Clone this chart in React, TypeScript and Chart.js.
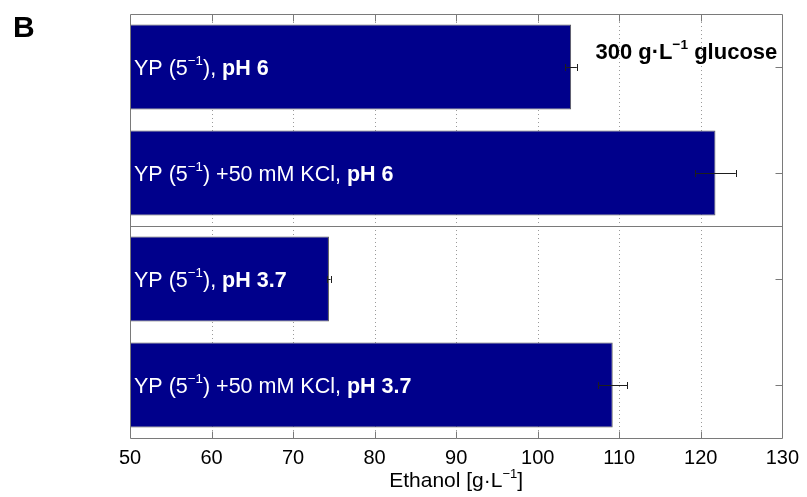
import { useEffect, useRef } from 'react';
import { Chart, registerables } from 'chart.js';

Chart.register(...registerables);

// Culture conditions (normal weight) and pH (bold) for each bar, top to bottom
const conditions = ['YP (5⁻¹), ', 'YP (5⁻¹) +50 mM KCl, ', 'YP (5⁻¹), ', 'YP (5⁻¹) +50 mM KCl, '];
const phLabels = ['pH 6', 'pH 6', 'pH 3.7', 'pH 3.7'];
// Final ethanol titre and its error, g/L
const ethanolMean = [104.1, 121.8, 74.4, 109.2];
const ethanolError = [0.7, 2.5, 0.2, 1.8];
const xTickValues = [50, 60, 70, 80, 90, 100, 110, 120, 130];
// Horizontal divider drawn after this many bars (pH 6 group | pH 3.7 group)
const groupBreakAfter = 2;
const panelLetter = 'B';
const glucoseNote = '300 g·L⁻¹ glucose';
const xAxisTitle = 'Ethanol [g·L⁻¹]';

const FONT = '"Liberation Sans", Arial, Helvetica, sans-serif';
const SUP = '⁻¹';

type Seg = { text: string; bold: boolean; sup: boolean };

function toSegments(text: string, bold: boolean): Seg[] {
  const parts = text.split(SUP);
  const out: Seg[] = [];
  parts.forEach((p, i) => {
    if (p) out.push({ text: p, bold, sup: false });
    if (i < parts.length - 1) out.push({ text: '−1', bold, sup: true });
  });
  return out;
}

function segFont(seg: Seg, size: number) {
  const s = seg.sup ? size * 0.62 : size;
  return `${seg.bold ? 'bold ' : ''}${s}px ${FONT}`;
}

function measureRich(ctx: CanvasRenderingContext2D, segs: Seg[], size: number) {
  let w = 0;
  for (const s of segs) {
    ctx.font = segFont(s, size);
    w += ctx.measureText(s.text).width;
  }
  return w;
}

function drawRich(
  ctx: CanvasRenderingContext2D,
  segs: Seg[],
  x: number,
  baseline: number,
  size: number,
  color: string,
  align: 'left' | 'center' | 'right'
) {
  const w = measureRich(ctx, segs, size);
  let cx = align === 'left' ? x : align === 'center' ? x - w / 2 : x - w;
  ctx.fillStyle = color;
  ctx.textAlign = 'left';
  ctx.textBaseline = 'alphabetic';
  for (const s of segs) {
    ctx.font = segFont(s, size);
    ctx.fillText(s.text, cx, s.sup ? baseline - size * 0.45 : baseline);
    cx += ctx.measureText(s.text).width;
  }
}

const figurePlugin = {
  id: 'figureDecor',
  beforeDatasetsDraw(chart: any) {
    const { ctx, chartArea: a, scales } = chart;
    const x = scales.x;
    ctx.save();
    ctx.strokeStyle = '#9a9a9a';
    ctx.lineWidth = 1;
    ctx.setLineDash([1, 3]);
    xTickValues.slice(1, -1).forEach((v) => {
      const px = Math.round(x.getPixelForValue(v)) + 0.5;
      ctx.beginPath();
      ctx.moveTo(px, a.top);
      ctx.lineTo(px, a.bottom);
      ctx.stroke();
    });
    ctx.restore();
  },
  afterDatasetsDraw(chart: any) {
    const { ctx, chartArea: a, scales } = chart;
    const x = scales.x;
    const y = scales.y;
    ctx.save();

    // error bars
    ctx.strokeStyle = '#1e1e1e';
    ctx.lineWidth = 1;
    ethanolMean.forEach((m, i) => {
      const yc = Math.round(y.getPixelForValue(i)) + 0.5;
      const x0 = x.getPixelForValue(m - ethanolError[i]);
      const x1 = x.getPixelForValue(m + ethanolError[i]);
      ctx.beginPath();
      ctx.moveTo(x0, yc);
      ctx.lineTo(x1, yc);
      ctx.moveTo(Math.round(x0) + 0.5, yc - 3.5);
      ctx.lineTo(Math.round(x0) + 0.5, yc + 3.5);
      ctx.moveTo(Math.round(x1) + 0.5, yc - 3.5);
      ctx.lineTo(Math.round(x1) + 0.5, yc + 3.5);
      ctx.stroke();
    });

    // frame, divider and inward tick marks
    ctx.strokeStyle = '#7a7a7a';
    const L = Math.round(a.left) + 0.5;
    const R = Math.round(a.right) + 0.5;
    const T = Math.round(a.top) + 0.5;
    const B = Math.round(a.bottom) + 0.5;
    ctx.beginPath();
    ctx.rect(L, T, R - L, B - T);
    const yDiv = Math.round((y.getPixelForValue(groupBreakAfter - 1) + y.getPixelForValue(groupBreakAfter)) / 2) + 0.5;
    ctx.moveTo(L, yDiv);
    ctx.lineTo(R, yDiv);
    xTickValues.slice(1, -1).forEach((v) => {
      const px = Math.round(x.getPixelForValue(v)) + 0.5;
      ctx.moveTo(px, T);
      ctx.lineTo(px, T + 7);
      ctx.moveTo(px, B);
      ctx.lineTo(px, B - 7);
    });
    ethanolMean.forEach((_, i) => {
      const yc = Math.round(y.getPixelForValue(i)) + 0.5;
      ctx.moveTo(R, yc);
      ctx.lineTo(R - 7, yc);
    });
    ctx.stroke();

    // labels inside the bars
    const labelSize = 21.5;
    conditions.forEach((c, i) => {
      const yc = y.getPixelForValue(i);
      const segs = [...toSegments(c, false), ...toSegments(phLabels[i], true)];
      drawRich(ctx, segs, a.left + 4, yc + labelSize * 0.716 / 2, labelSize, '#ffffff', 'left');
    });

    // glucose note
    drawRich(ctx, toSegments(glucoseNote, true), a.right - 5, a.top + 45, 22, '#000000', 'right');

    // axis title
    drawRich(ctx, toSegments(xAxisTitle, false), (a.left + a.right) / 2, 487, 21, '#000000', 'center');

    // panel letter
    ctx.font = `bold 30px ${FONT}`;
    ctx.fillStyle = '#000';
    ctx.textAlign = 'left';
    ctx.textBaseline = 'alphabetic';
    ctx.fillText(panelLetter, 13, 37);

    ctx.restore();
  },
};

export default function App() {
  const canvasRef = useRef<HTMLCanvasElement | null>(null);

  useEffect(() => {
    const canvas = canvasRef.current;
    if (!canvas) return;
    const chart = new Chart(canvas, {
      type: 'bar',
      data: {
        labels: conditions.map((c, i) => c + phLabels[i]),
        datasets: [
          {
            data: ethanolMean,
            base: 50,
            backgroundColor: '#00008b',
            borderColor: '#5a5a5a',
            borderWidth: 1,
            barPercentage: 0.8,
            categoryPercentage: 1,
          },
        ],
      },
      options: {
        indexAxis: 'y',
        responsive: false,
        animation: false,
        layout: { padding: { left: 130, right: 24, top: 14, bottom: 0 } },
        plugins: {
          legend: { display: false },
          tooltip: { enabled: false },
        },
        scales: {
          x: {
            min: 50,
            max: 130,
            afterFit: (scale: any) => {
              scale.height = 59;
            },
            ticks: {
              stepSize: 10,
              padding: 8,
              color: '#000000',
              font: { family: FONT, size: 20 },
            },
            grid: { display: false, drawTicks: false },
            border: { display: false },
          },
          y: {
            display: false,
          },
        },
      },
      plugins: [figurePlugin],
    });
    return () => chart.destroy();
  }, []);

  return (
    <div style={{ position: 'fixed', left: 0, top: 0, width: 807, height: 497, background: '#fff' }}>
      <canvas ref={canvasRef} width={807} height={497} style={{ display: 'block' }} />
    </div>
  );
}
